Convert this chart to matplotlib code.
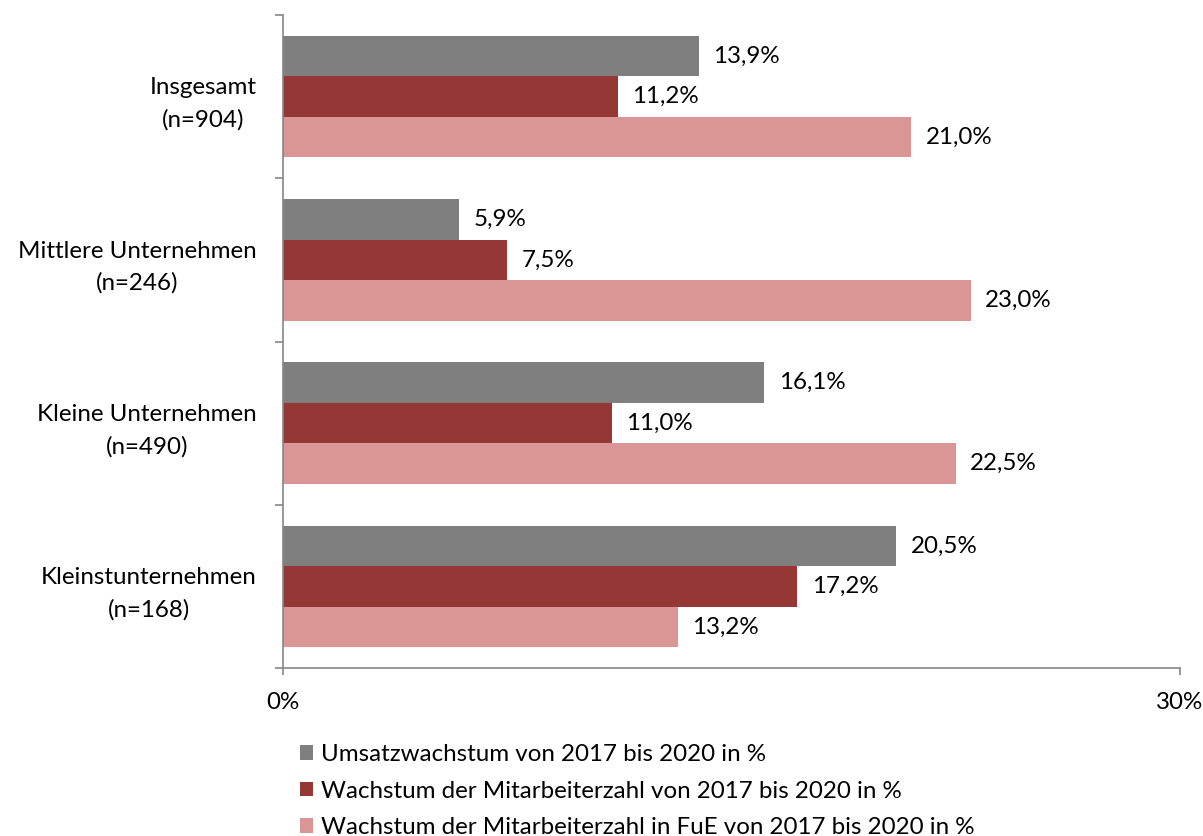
import matplotlib.pyplot as plt
import numpy as np

# Daten (von oben nach unten wie im Original)
categories = ['Insgesamt\n(n=904)', 'Mittlere Unternehmen\n(n=246)',
              'Kleine Unternehmen\n(n=490)', 'Kleinstunternehmen\n(n=168)']
umsatz = [13.9, 5.9, 16.1, 20.5]
mitarbeiter = [11.2, 7.5, 11.0, 17.2]
mitarbeiter_fue = [21.0, 23.0, 22.5, 13.2]
series_names = ['Umsatzwachstum von 2017 bis 2020 in %',
                'Wachstum der Mitarbeiterzahl von 2017 bis 2020 in %',
                'Wachstum der Mitarbeiterzahl in FuE von 2017 bis 2020 in %']
colors = ['#7F7F7F', '#953735', '#D99694']
x_ticks = [0, 30]
x_ticklabels = ['0%', '30%']

plt.rcParams['font.family'] = ['Lato', 'DejaVu Sans']
fs = 17.4
plt.rcParams['font.size'] = fs

fig = plt.figure(figsize=(12.03, 8.36), dpi=100)
ax = fig.add_axes([283 / 1203, 1 - 668 / 836, (1180 - 283) / 1203, (668 - 15) / 836])

n = len(categories)
pos = np.arange(n)[::-1]  # Insgesamt oben
h = 0.248
all_series = [umsatz, mitarbeiter, mitarbeiter_fue]
offsets = [h, 0, -h]

for vals, off, col, name in zip(all_series, offsets, colors, series_names):
    bars = ax.barh(pos + off, vals, height=h, color=col, label=name)
    for b, v in zip(bars, vals):
        ax.annotate(f'{v:.1f}%'.replace('.', ','),
                    (b.get_width(), b.get_y() + b.get_height() / 2),
                    xytext=(10.5, 0), textcoords='offset points',
                    va='center', ha='left', fontsize=fs)

ax.set_xlim(0, 30)
ax.set_ylim(-0.5, n - 0.5)

ax.set_xticks(x_ticks)
ax.set_xticklabels(x_ticklabels)
ax.tick_params(axis='x', direction='out', length=5, width=1.2,
               color='#868686', pad=12)

ax.set_yticks(pos)
ax.set_yticklabels(categories)
ax.set_yticks(np.arange(-0.5, n), minor=True)
ax.tick_params(axis='y', which='major', length=0, pad=19)
ax.tick_params(axis='y', which='minor', direction='out', length=6,
               width=1.2, color='#868686')
for lbl in ax.get_yticklabels():
    lbl.set_multialignment('center')
    lbl.set_linespacing(1.62)

for s in ['top', 'right']:
    ax.spines[s].set_visible(False)
for s in ['left', 'bottom']:
    ax.spines[s].set_color('#868686')
    ax.spines[s].set_linewidth(1.2)

handles, labels = ax.get_legend_handles_labels()
fig.legend(handles, labels, loc='upper left',
           bbox_to_anchor=(288 / 1203, 1 - 732 / 836),
           frameon=False, handlelength=0.55, handleheight=0.55,
           handletextpad=0.3, labelspacing=0.64, borderpad=0,
           fontsize=fs)

fig.savefig('out.png', dpi=100)
